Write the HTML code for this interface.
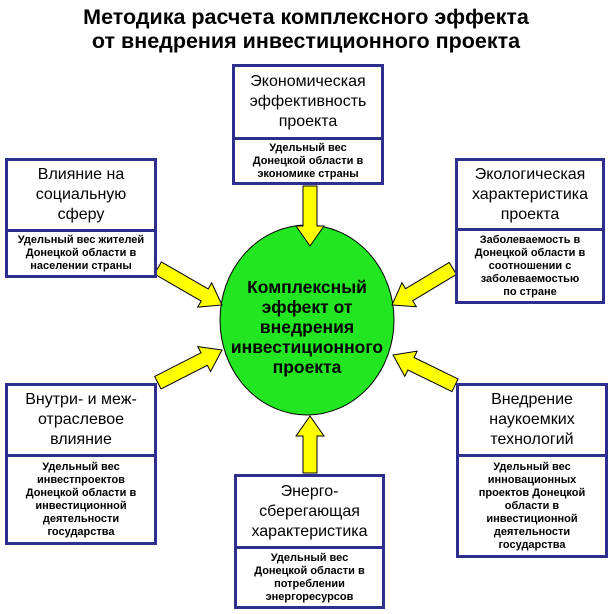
<!DOCTYPE html>
<html><head><meta charset="utf-8"><style>
body{margin:0;width:612px;height:614px;background:#fff;position:relative;overflow:hidden;font-family:"Liberation Sans","DejaVu Sans",sans-serif}
.t{position:absolute;left:0;width:612px;text-align:center;font-weight:bold;font-size:21.5px;line-height:24px;color:#000}
.b{position:absolute;border:3px solid #2e2e8f;background:#fff;box-sizing:border-box;display:flex;flex-direction:column}
.h{display:flex;align-items:center;justify-content:center;text-align:center;font-size:16px;line-height:20px;border-bottom:3px solid #2e2e8f;box-sizing:border-box}
.s{flex:1;display:flex;align-items:center;justify-content:center;text-align:center;font-size:11px;font-weight:bold;line-height:13px}
svg{position:absolute;left:0;top:0}
</style></head><body>
<div class="t" style="top:5px">Методика расчета комплексного эффекта<br>от внедрения инвестиционного проекта</div>
<svg width="612" height="614">
<ellipse cx="307" cy="320" rx="87" ry="95" fill="#22e622" stroke="#000" stroke-width="1"/>
<g fill="#ffff00" stroke="#000" stroke-width="1">
<g transform="translate(310,246) rotate(90)"><polygon points="0,0 -20,-14 -20,-7 -60,-7 -60,7 -20,7 -20,14"/></g>
<g transform="translate(310,416) rotate(-90)"><polygon points="0,0 -20,-14 -20,-7 -57,-7 -57,7 -20,7 -20,14"/></g>
<g transform="translate(222,305) rotate(30)"><polygon points="0,0 -20,-14 -20,-7 -74,-7 -74,7 -20,7 -20,14"/></g>
<g transform="translate(222,350) rotate(-27)"><polygon points="0,0 -20,-14 -20,-7 -72,-7 -72,7 -20,7 -20,14"/></g>
<g transform="translate(392,305) rotate(149)"><polygon points="0,0 -20,-14 -20,-7 -71,-7 -71,7 -20,7 -20,14"/></g>
<g transform="translate(393,355) rotate(206)"><polygon points="0,0 -20,-14 -20,-7 -69,-7 -69,7 -20,7 -20,14"/></g>
</g>
<g font-family="Liberation Sans" font-weight="bold" font-size="17.5" text-anchor="middle">
<text x="307" y="293">Комплексный</text>
<text x="307" y="313">эффект от</text>
<text x="307" y="333">внедрения</text>
<text x="307" y="353">инвестиционного</text>
<text x="307" y="373">проекта</text>
</g>
</svg>
<div class="b" style="left:232px;top:64px;width:152px;height:121px"><div class="h" style="height:73px">Экономическая<br>эффективность<br>проекта</div><div class="s">Удельный вес<br>Донецкой области в<br>экономике страны</div></div>
<div class="b" style="left:5px;top:158px;width:152px;height:120px"><div class="h" style="height:71px">Влияние на<br>социальную<br>сферу</div><div class="s">Удельный вес жителей<br>Донецкой области в<br>населении страны</div></div>
<div class="b" style="left:455px;top:158px;width:150px;height:146px"><div class="h" style="height:70px">Экологическая<br>характеристика<br>проекта</div><div class="s">Заболеваемость в<br>Донецкой области в<br>соотношении с<br>заболеваемостью<br>по стране</div></div>
<div class="b" style="left:5px;top:383px;width:152px;height:162px"><div class="h" style="height:71px">Внутри- и меж-<br>отраслевое<br>влияние</div><div class="s">Удельный вес<br>инвестпроектов<br>Донецкой области в<br>инвестиционной<br>деятельности<br>государства</div></div>
<div class="b" style="left:456px;top:383px;width:152px;height:175px"><div class="h" style="height:71px">Внедрение<br>наукоемких<br>технологий</div><div class="s">Удельный вес<br>инновационных<br>проектов Донецкой<br>области в<br>инвестиционной<br>деятельности<br>государства</div></div>
<div class="b" style="left:234px;top:474px;width:151px;height:135px"><div class="h" style="height:72px">Энерго-<br>сберегающая<br>характеристика</div><div class="s">Удельный вес<br>Донецкой области в<br>потреблении<br>энергоресурсов</div></div>
</body></html>
